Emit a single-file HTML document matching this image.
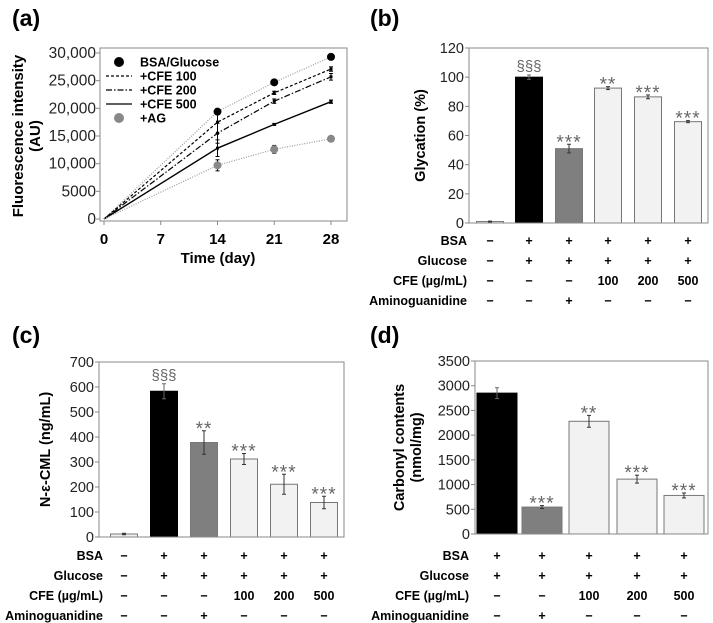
<!DOCTYPE html>
<html><head><meta charset="utf-8"><style>
body{margin:0;background:#fff}
svg{display:block;font-family:"Liberation Sans",sans-serif}
</style></head><body>
<svg id="fig" width="713" height="623" viewBox="0 0 713 623"></svg>
<script>
// ---- Panel (a) data ----
const aDays=[0,14,21,28];
const aSeriesNames=["BSA/Glucose","+CFE 100","+CFE 200","+CFE 500","+AG"];
const aBSA=[0,19400,24700,29300];
const aCFE100=[0,17500,22800,27100];
const aCFE200=[0,15500,21300,25700];
const aCFE500=[0,12800,17100,21200];
const aAG=[0,9700,12600,14500];
const aErrBSA=[0,0,0,0];
const aErrCFE100=[0,2000,300,400];
const aErrCFE200=[0,1800,400,600];
const aErrCFE500=[0,1500,150,300];
const aErrAG=[0,1000,700,200];
const aYTicks=[0,5000,10000,15000,20000,25000,30000];
const aYTickLabels=["0","5000","10,000","15,000","20,000","25,000","30,000"];
const aXTicks=[0,7,14,21,28];
// ---- Panel (b) ----
const bValues=[1,100,51,92.5,86.5,69.5];
const bErr=[0.3,1.5,3,1,1.3,0.7];
const bSig=["","§§§","***","**","***","***"];
const bYTicks=[0,20,40,60,80,100,120];
const bRows=[["BSA",["−","+","+","+","+","+"]],["Glucose",["−","+","+","+","+","+"]],["CFE (µg/mL)",["−","−","−","100","200","500"]],["Aminoguanidine",["−","−","+","−","−","−"]]];
// ---- Panel (c) ----
const cValues=[12,583,378,312,211,138];
const cErr=[3,30,47,22,40,25];
const cSig=["","§§§","**","***","***","***"];
const cYTicks=[0,100,200,300,400,500,600,700];
// ---- Panel (d) ----
const dValues=[2850,545,2280,1110,780];
const dErr=[110,30,120,80,50];
const dSig=["","***","**","***","***"];
const dYTicks=[0,500,1000,1500,2000,2500,3000,3500];
const dRows=[["BSA",["+","+","+","+","+"]],["Glucose",["+","+","+","+","+"]],["CFE (µg/mL)",["−","−","100","200","500"]],["Aminoguanidine",["−","+","−","−","−"]]];
const fills6=["#f2f2f2","#000","#7f7f7f","#f2f2f2","#f2f2f2","#f2f2f2"];
const fills5=["#000","#7f7f7f","#f2f2f2","#f2f2f2","#f2f2f2"];

const svg=document.getElementById('fig');
const NS='http://www.w3.org/2000/svg';
function mk(tag,attrs,parent,text){const e=document.createElementNS(NS,tag);for(const k in attrs)e.setAttribute(k,attrs[k]);if(text!==undefined)e.textContent=text;(parent||svg).appendChild(e);return e;}
function grp(name){const g=mk('g',{});return g;}

function title(txt,x,y,name){const t=mk('text',{x:x,y:y,'font-size':23,'font-weight':'bold'},svg,txt);}
title("(a)",12,26,"panel-a-label");title("(b)",370,26,"panel-b-label");
title("(c)",12,343,"panel-c-label");title("(d)",370,343,"panel-d-label");

// ---------- Panel (a) ----------
(function(){
 const g=grp('panel-a-line-chart');
 const L=100,R=347,T=48,B=221;
 const x=d=>104+(d/28)*(331-104);
 const y=v=>219-(v/30000)*(219-53);
 const box=mk('rect',{x:L,y:T,width:R-L,height:B-T,fill:'none',stroke:'#888','stroke-width':1},g);
 
 aYTicks.forEach((v,i)=>{mk('line',{x1:L-4,x2:L,y1:y(v),y2:y(v),stroke:'#888'},g);
  const t=mk('text',{x:L-4,y:y(v)+5,'font-size':15.5,'text-anchor':'end',fill:'#222'},g,aYTickLabels[i]);
  });
 aXTicks.forEach(d=>{mk('line',{x1:x(d),x2:x(d),y1:B,y2:B+4,stroke:'#888'},g);
  const t=mk('text',{x:x(d),y:244,'font-size':15,'font-weight':'bold','text-anchor':'middle'},g,String(d));
  });
 const xt=mk('text',{x:218,y:263,'font-size':15,'font-weight':'bold','text-anchor':'middle'},g,'Time (day)');
 
 const yt=mk('text',{transform:'translate(23,136) rotate(-90)','font-size':15,'font-weight':'bold','text-anchor':'middle'},g);
 
 mk('tspan',{x:0,dy:0},yt,'Fluorescence intensity');mk('tspan',{x:0,dy:17},yt,'(AU)');
 const series=[[aBSA,aErrBSA,'#999','1.2','1 1.5','#000',4],[aCFE100,aErrCFE100,'#000','1.2','3 2',null],[aCFE200,aErrCFE200,'#000','1.2','6 2 1.5 2',null],[aCFE500,aErrCFE500,'#000','1.4','',null],[aAG,aErrAG,'#999','1.2','1 1.5','#888',4]];
 series.forEach((s,si)=>{
  const pts=s[0].map((v,i)=>x(aDays[i])+','+y(v)).join(' ');
  const pl=mk('polyline',{points:pts,fill:'none',stroke:s[2],'stroke-width':s[3],'stroke-dasharray':s[4]},g);
  
  s[0].forEach((v,i)=>{if(i===0)return;const e=s[1][i];if(e>0){const cx=x(aDays[i]);
   mk('line',{x1:cx,x2:cx,y1:y(v+e),y2:y(v-e),stroke:'#000','stroke-width':1},g);
   mk('line',{x1:cx-2,x2:cx+2,y1:y(v+e),y2:y(v+e),stroke:'#000'},g);
   mk('line',{x1:cx-2,x2:cx+2,y1:y(v-e),y2:y(v-e),stroke:'#000'},g);}
   if(s[5]){const c=mk('circle',{cx:x(aDays[i]),cy:y(v),r:s[6],fill:s[5]},g);}
   else mk('rect',{x:x(aDays[i])-1.5,y:y(v)-1.5,width:3,height:3,fill:'#000'},g);});
 });
 const lg=mk('g',{},g);
 const ly=[62,76,90,104,118];
 aSeriesNames.forEach((n,i)=>{
  if(i===0)mk('circle',{cx:119,cy:ly[i],r:5,fill:'#000'},lg);
  else if(i===4)mk('circle',{cx:119,cy:ly[i],r:5,fill:'#888'},lg);
  else mk('line',{x1:106,x2:132,y1:ly[i],y2:ly[i],stroke:'#000','stroke-width':1.3,'stroke-dasharray':series[i][4]},lg);
  const t=mk('text',{x:140,y:ly[i]+4.5,'font-size':12.5,'font-weight':'bold'},lg,n);
  });
})();

// ---------- bar chart helper ----------
function barChart(o){
 const g=grp(o.name);
 const y=v=>o.B-(v/o.ymax)*(o.B-o.T);
 o.values.forEach((v,i)=>{const cx=o.cx[i];
  const r=mk('rect',{x:cx-o.bw/2,y:y(v),width:o.bw,height:o.B-y(v),fill:o.fills[i],stroke:o.fills[i]=='#000'?'#000':'#777','stroke-width':1},g);
  
  const e=o.err[i];
  mk('line',{x1:cx,x2:cx,y1:y(v+e),y2:y(v-e),stroke:o.fills[i]=='#000'?'#666':'#333'},g);
  mk('line',{x1:cx-2,x2:cx+2,y1:y(v+e),y2:y(v+e),stroke:o.fills[i]=='#000'?'#666':'#333'},g);
  mk('line',{x1:cx-2,x2:cx+2,y1:y(v-e),y2:y(v-e),stroke:o.fills[i]=='#000'?'#666':'#333'},g);
  if(o.sig[i]){const isS=o.sig[i][0]=='§';
   const t=mk('text',{x:cx,y:y(v+e)-(isS?4:-4),'font-size':isS?15:19,'letter-spacing':isS?0:1,'text-anchor':'middle',fill:'#666'},g,o.sig[i]);
   }
 });
 const box=mk('rect',{x:o.L,y:o.T,width:o.R-o.L,height:o.B-o.T,fill:'none',stroke:'#888'},g);
 
 o.ticks.forEach(v=>{mk('line',{x1:o.L-4,x2:o.L,y1:y(v),y2:y(v),stroke:'#888'},g);
  const t=mk('text',{x:o.L-5,y:y(v)+5,'font-size':14.5,'text-anchor':'end',fill:'#222'},g,String(v));
  });
 const yt=mk('text',{transform:`translate(${o.yx},${(o.T+o.B)/2}) rotate(-90)`,'font-size':14.5,'font-weight':'bold','text-anchor':'middle'},g);
 
 o.ytitle.forEach((s,k)=>mk('tspan',{x:0,dy:k?17:0},yt,s));
 o.rows.forEach((row,ri)=>{const ry=o.rowY+ri*20;
  const lab=mk('text',{x:o.labX,y:ry,'font-size':12.5,'font-weight':'bold','text-anchor':'end'},g,row[0]);
  
  row[1].forEach((s,ci)=>{const t=mk('text',{x:o.cx[ci],y:ry,'font-size':12.5,'font-weight':'bold','text-anchor':'middle'},g,s);
   });});
}
barChart({name:'panel-b-bar-chart',values:bValues,err:bErr,sig:bSig,fills:fills6,L:469,R:708,T:48,B:223,ymax:120,ticks:bYTicks,
 cx:[490,529,569,608,648,688],bw:27,yx:425,ytitle:['Glycation (%)'],rows:bRows,rowY:245,labX:467});
barChart({name:'panel-c-bar-chart',values:cValues,err:cErr,sig:cSig,fills:fills6,L:99,R:344,T:362,B:537,ymax:700,ticks:cYTicks,
 cx:[124,164,204,244,284,324],bw:27,yx:50,ytitle:['N-ε-CML (ng/mL)'],rows:bRows,rowY:560,labX:103});
barChart({name:'panel-d-bar-chart',values:dValues,err:dErr,sig:dSig,fills:fills5,L:475,R:708,T:361,B:534,ymax:3500,ticks:dYTicks,
 cx:[497,542,589,637,684],bw:40,yx:404,ytitle:['Carbonyl contents','(nmol/mg)'],rows:dRows,rowY:560,labX:469});
</script>
</body></html>
